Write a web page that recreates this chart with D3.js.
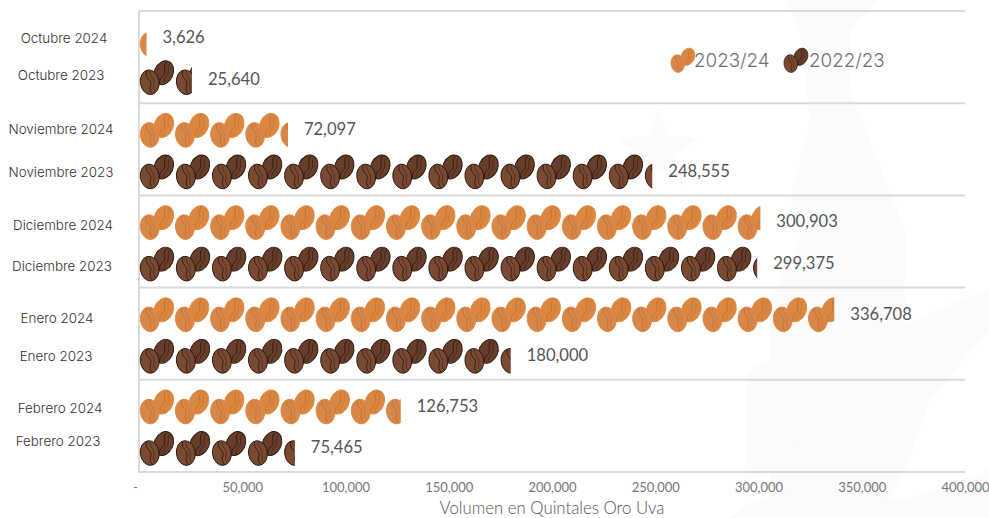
<!DOCTYPE html>
<html>
<head>
<meta charset="utf-8">
<script src="https://cdn.jsdelivr.net/npm/d3@7"></script>
<style>
  html, body { margin: 0; padding: 0; background: #fff; }
  svg { display: block; }
  text { font-family: Lato, sans-serif; }
</style>
</head>
<body>
<svg id="chart" width="989" height="518"></svg>
<script>
// values
const months = ['Octubre', 'Noviembre', 'Diciembre', 'Enero', 'Febrero'];
const labels2024 = ['Octubre 2024', 'Noviembre 2024', 'Diciembre 2024', 'Enero 2024', 'Febrero 2024'];
const labels2023 = ['Octubre 2023', 'Noviembre 2023', 'Diciembre 2023', 'Enero 2023', 'Febrero 2023'];
const values2024 = [3626, 72097, 300903, 336708, 126753];
const values2023 = [25640, 248555, 299375, 180000, 75465];
const xTicks = [0, 50000, 100000, 150000, 200000, 250000, 300000, 350000, 400000];
const seriesNames = ['2023/24', '2022/23'];

// the category labels sit by hand in the original, so they get a nudge [dx, dy]
const nudge2024 = [[3, 1], [0, -1], [2, 3], [-4, 4], [-1, 2]];
const nudge2023 = [[0, -4], [0, 1], [1, 3], [-5, 0], [-3, -7]];
// Octubre beans sit a little closer together than the others
const rowShift2024 = [2, 0, 0, 0, 0];
const rowShift2023 = [-2, 0, 0, 0, 0];

const width = 989, height = 518;
const margin = { l: 139, r: 24, t: 11, b: 46 };
const svg = d3.select('#chart');

const palette = {
  light: { fill: '#d6874a', back: '#da8743', stroke: '#e5853a', vein: '#c56c2b', tile: 17030 },
  dark: { fill: '#7a4a32', back: '#683e2b', stroke: '#27160f', vein: '#2a1810', tile: 17470 }
};

const scaleX = d3.scaleLinear().domain([0, 400000]).range([margin.l, width - margin.r]);
const scaleGroup = d3.scaleBand().domain(months).range([margin.t, height - margin.b]);
const scaleRow = d3.scaleBand().domain([0, 1]).range([6, 89]).padding(0);

// one bean drawn around 0,0
function drawBean(g, c, tilt, isBack) {
  const b = g.append('g').attr('transform', `rotate(${tilt})`);
  b.append('ellipse')
    .attr('rx', 9.4).attr('ry', 12.4)
    .attr('fill', isBack ? c.back : c.fill)
    .attr('stroke', c.stroke).attr('stroke-width', 0.9);
  b.append('path')
    .attr('d', 'M-1.5,-11.5C-5,-5 3.5,-2 0.5,3C-1,6 -1,9 1,11.5')
    .attr('fill', 'none').attr('stroke', c.vein).attr('stroke-width', 0.8);
  b.append('path')
    .attr('d', 'M2,-11C0,-6 6,-3 4,2C3,5 3,7 4,9.5')
    .attr('fill', 'none').attr('stroke', c.vein).attr('stroke-width', 0.5);
}

function drawPair(g, c) {
  const back = g.append('g').attr('transform', 'translate(24.7,-4.5)');
  drawBean(back, c, 24, true);
  const front = g.append('g').attr('transform', 'translate(10.7,5)');
  drawBean(front, c, -8, false);
}

svg.append('defs').append('filter').attr('id', 'soft')
  .append('feGaussianBlur').attr('stdDeviation', 0.35);

// faint watermark behind the chart
const mark = svg.append('g').attr('fill', '#fbfbfc');
mark.append('path').attr('d', 'M658,108L668,136L698,138L674,156L684,186L658,168L632,186L642,156L618,138L648,136Z');
mark.append('path').attr('d', 'M785,0L880,0L850,30L850,90L905,230L905,470L880,518L770,518L770,300L800,240L790,200L810,120L800,30Z');
mark.append('path').attr('d', 'M745,380C760,350 810,350 815,400C815,440 790,470 745,480Z');
mark.append('path').attr('d', 'M870,340L960,300L989,290L989,330L930,400L905,470L880,420Z');
mark.append('path').attr('d', 'M730,518C760,480 850,490 905,500L989,470L989,518Z');

// grid lines and left edge
const gridG = svg.append('g');
gridG.selectAll('line')
  .data(months.concat('end'))
  .enter()
  .append('line')
  .attr('x1', margin.l).attr('x2', width - margin.r)
  .attr('y1', d => d === 'end' ? scaleGroup.range()[1] : scaleGroup(d))
  .attr('y2', d => d === 'end' ? scaleGroup.range()[1] : scaleGroup(d))
  .attr('stroke', '#dadada').attr('stroke-width', 2);
gridG.append('line')
  .attr('x1', margin.l).attr('x2', margin.l)
  .attr('y1', margin.t - 1).attr('y2', height - margin.b + 1)
  .attr('stroke', '#dadada').attr('stroke-width', 2);

const defs = svg.append('defs');

function drawRow(values, names, nudges, shifts, rowIndex, c, key) {
  values.forEach((v, i) => {
    const yBase = scaleGroup(months[i]) + scaleRow(rowIndex) + scaleRow.bandwidth() / 2;
    const yMid = yBase + shifts[i];
    const clipId = `clip-${key}-${i}`;
    defs.append('clipPath').attr('id', clipId)
      .append('rect')
      .attr('x', scaleX(0)).attr('width', scaleX(v) - scaleX(0))
      .attr('y', yMid - 20).attr('height', 40);

    const row = svg.append('g').attr('clip-path', `url(#${clipId})`)
      .append('g').attr('filter', 'url(#soft)');
    d3.range(Math.ceil(v / c.tile)).forEach(t => {
      const tile = row.append('g')
        .attr('transform', `translate(${scaleX(t * c.tile)},${yMid})`);
      drawPair(tile, c);
    });

    svg.append('text')
      .attr('x', scaleX(v) + 16).attr('y', yBase - 0.5)
      .attr('dy', '0.35em')
      .attr('font-size', 16.6).attr('fill', '#555')
      .text(d3.format(',')(v));

    svg.append('text')
      .attr('x', 61 + nudges[i][0]).attr('y', yBase + nudges[i][1])
      .attr('dy', '0.35em').attr('text-anchor', 'middle')
      .attr('font-size', 13.4).attr('font-weight', 300).attr('fill', '#333')
      .style('font-family', 'Inter, sans-serif')
      .text(names[i]);
  });
}
drawRow(values2024, labels2024, nudge2024, rowShift2024, 0, palette.light, 'a');
drawRow(values2023, labels2023, nudge2023, rowShift2023, 1, palette.dark, 'b');

// x axis
const xAxis = d3.axisBottom(scaleX)
  .tickValues(xTicks)
  .tickSize(0)
  .tickPadding(11)
  .tickFormat(d => d === 0 ? '-' : d3.format(',')(d));
const axisG = svg.append('g')
  .attr('transform', `translate(0,${height - margin.b})`)
  .call(xAxis);
axisG.select('.domain').remove();
axisG.selectAll('text')
  .attr('font-size', 13).attr('fill', '#777')
  .attr('dx', d => d === 0 ? -4 : 0)
  .style('font-family', 'Lato, sans-serif');

svg.append('text')
  .attr('x', 552).attr('y', 514)
  .attr('text-anchor', 'middle')
  .attr('font-size', 16.8).attr('font-weight', 300).attr('fill', '#555')
  .text('Volumen en Quintales Oro Uva');

// legend
const legendX = [670, 783];
const legendTextX = [24, 26];
seriesNames.forEach((name, i) => {
  const g = svg.append('g').attr('transform', `translate(${legendX[i]},60)`);
  const icon = g.append('g').attr('transform', 'scale(0.72)').attr('filter', 'url(#soft)');
  drawPair(icon, i === 0 ? palette.light : palette.dark);
  g.append('text')
    .attr('x', legendTextX[i]).attr('y', 0).attr('dy', '0.35em')
    .attr('font-size', 18.8).attr('font-weight', 300).attr('fill', '#707070')
    .style('font-family', 'Inter, sans-serif')
    .text(name);
});
</script>
</body>
</html>
